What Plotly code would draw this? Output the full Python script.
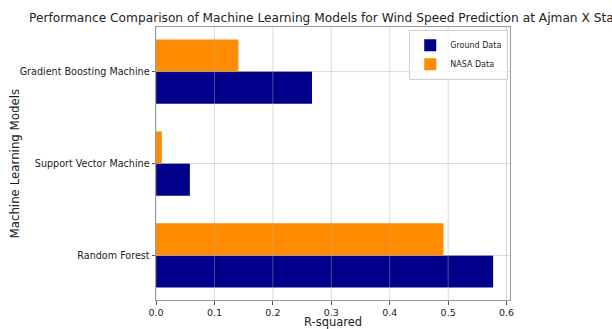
import plotly.graph_objects as go

models = ["Random Forest", "Support Vector Machine", "Gradient Boosting Machine"]
ground_r2 = [0.577, 0.058, 0.267]
nasa_r2 = [0.492, 0.010, 0.141]
x_ticks = [0.0, 0.1, 0.2, 0.3, 0.4, 0.5, 0.6]
x_tick_labels = ["0.0", "0.1", "0.2", "0.3", "0.4", "0.5", "0.6"]

pos = list(range(len(models)))
bar_h = 0.35

W, H = 612, 329
ML, MR, MT, MB = 156, 102, 27, 29
PW, PH = W - ML - MR, H - MT - MB

fig = go.Figure()
fig.add_trace(go.Bar(
    y=pos, x=ground_r2, orientation="h", name="Ground Data",
    width=bar_h, offset=-bar_h, marker=dict(color="#00008B", line=dict(width=0)),
))
fig.add_trace(go.Bar(
    y=pos, x=nasa_r2, orientation="h", name="NASA Data",
    width=bar_h, offset=0, marker=dict(color="#FF8C00", line=dict(width=0)),
))

xmax = max(ground_r2 + nasa_r2) * 1.05
grid_col = "rgba(176,176,176,0.45)"
shapes = []
for t in x_ticks:
    shapes.append(dict(type="line", xref="x", yref="paper", x0=t, x1=t, y0=0, y1=1,
                       line=dict(color=grid_col, width=1), layer="above"))
for p in pos:
    shapes.append(dict(type="line", xref="paper", yref="y", x0=0, x1=1, y0=p, y1=p,
                       line=dict(color=grid_col, width=1), layer="above"))

annotations = [
    dict(text="R-squared", xref="paper", yref="paper", x=0.5, y=-(321.5 - (MT + PH)) / PH,
         xanchor="center", yanchor="middle", showarrow=False, font=dict(size=11.5, color="#222")),
    dict(text="Machine Learning Models", xref="paper", yref="paper", x=-(ML - 14) / PW, y=0.5,
         xanchor="center", yanchor="middle", textangle=-90, showarrow=False,
         font=dict(size=11.8, color="#222")),
]

fig.update_layout(
    width=W, height=H,
    margin=dict(l=ML, r=MR, t=MT, b=MB, autoexpand=False),
    paper_bgcolor="white", plot_bgcolor="white",
    barmode="overlay",
    font=dict(family="DejaVu Sans", color="#222", size=10),
    title=dict(text="Performance Comparison of Machine Learning Models for Wind Speed Prediction at Ajman X Station",
               x=(ML + ML + PW) / 2 / W, xanchor="center", y=1 - 18 / H, yanchor="middle",
               font=dict(size=12.2, color="#222"), automargin=False),
    showlegend=True,
    legend=dict(x=0.995, y=0.99, xanchor="right", yanchor="top",
                bgcolor="rgba(255,255,255,0.8)", bordercolor="#d0d0d0", borderwidth=1,
                font=dict(size=8), traceorder="normal", tracegroupgap=0,
                itemwidth=30),
    shapes=shapes,
    annotations=annotations,
)
fig.update_xaxes(
    range=[0, xmax], tickvals=x_ticks, ticktext=x_tick_labels,
    showgrid=False, zeroline=False, automargin=False,
    showline=True, linecolor="#999", linewidth=1, mirror=True,
    ticks="outside", ticklen=3.5, tickcolor="#555",
    tickfont=dict(size=9.5),
)
fig.update_yaxes(
    range=[-0.485, 2.485], tickvals=pos, ticktext=models,
    showgrid=False, zeroline=False, automargin=False,
    showline=True, linecolor="#999", linewidth=1, mirror=True,
    ticks="outside", ticklen=3.5, tickcolor="#555",
    tickfont=dict(size=9.6),
)

fig.write_html("out.html")
